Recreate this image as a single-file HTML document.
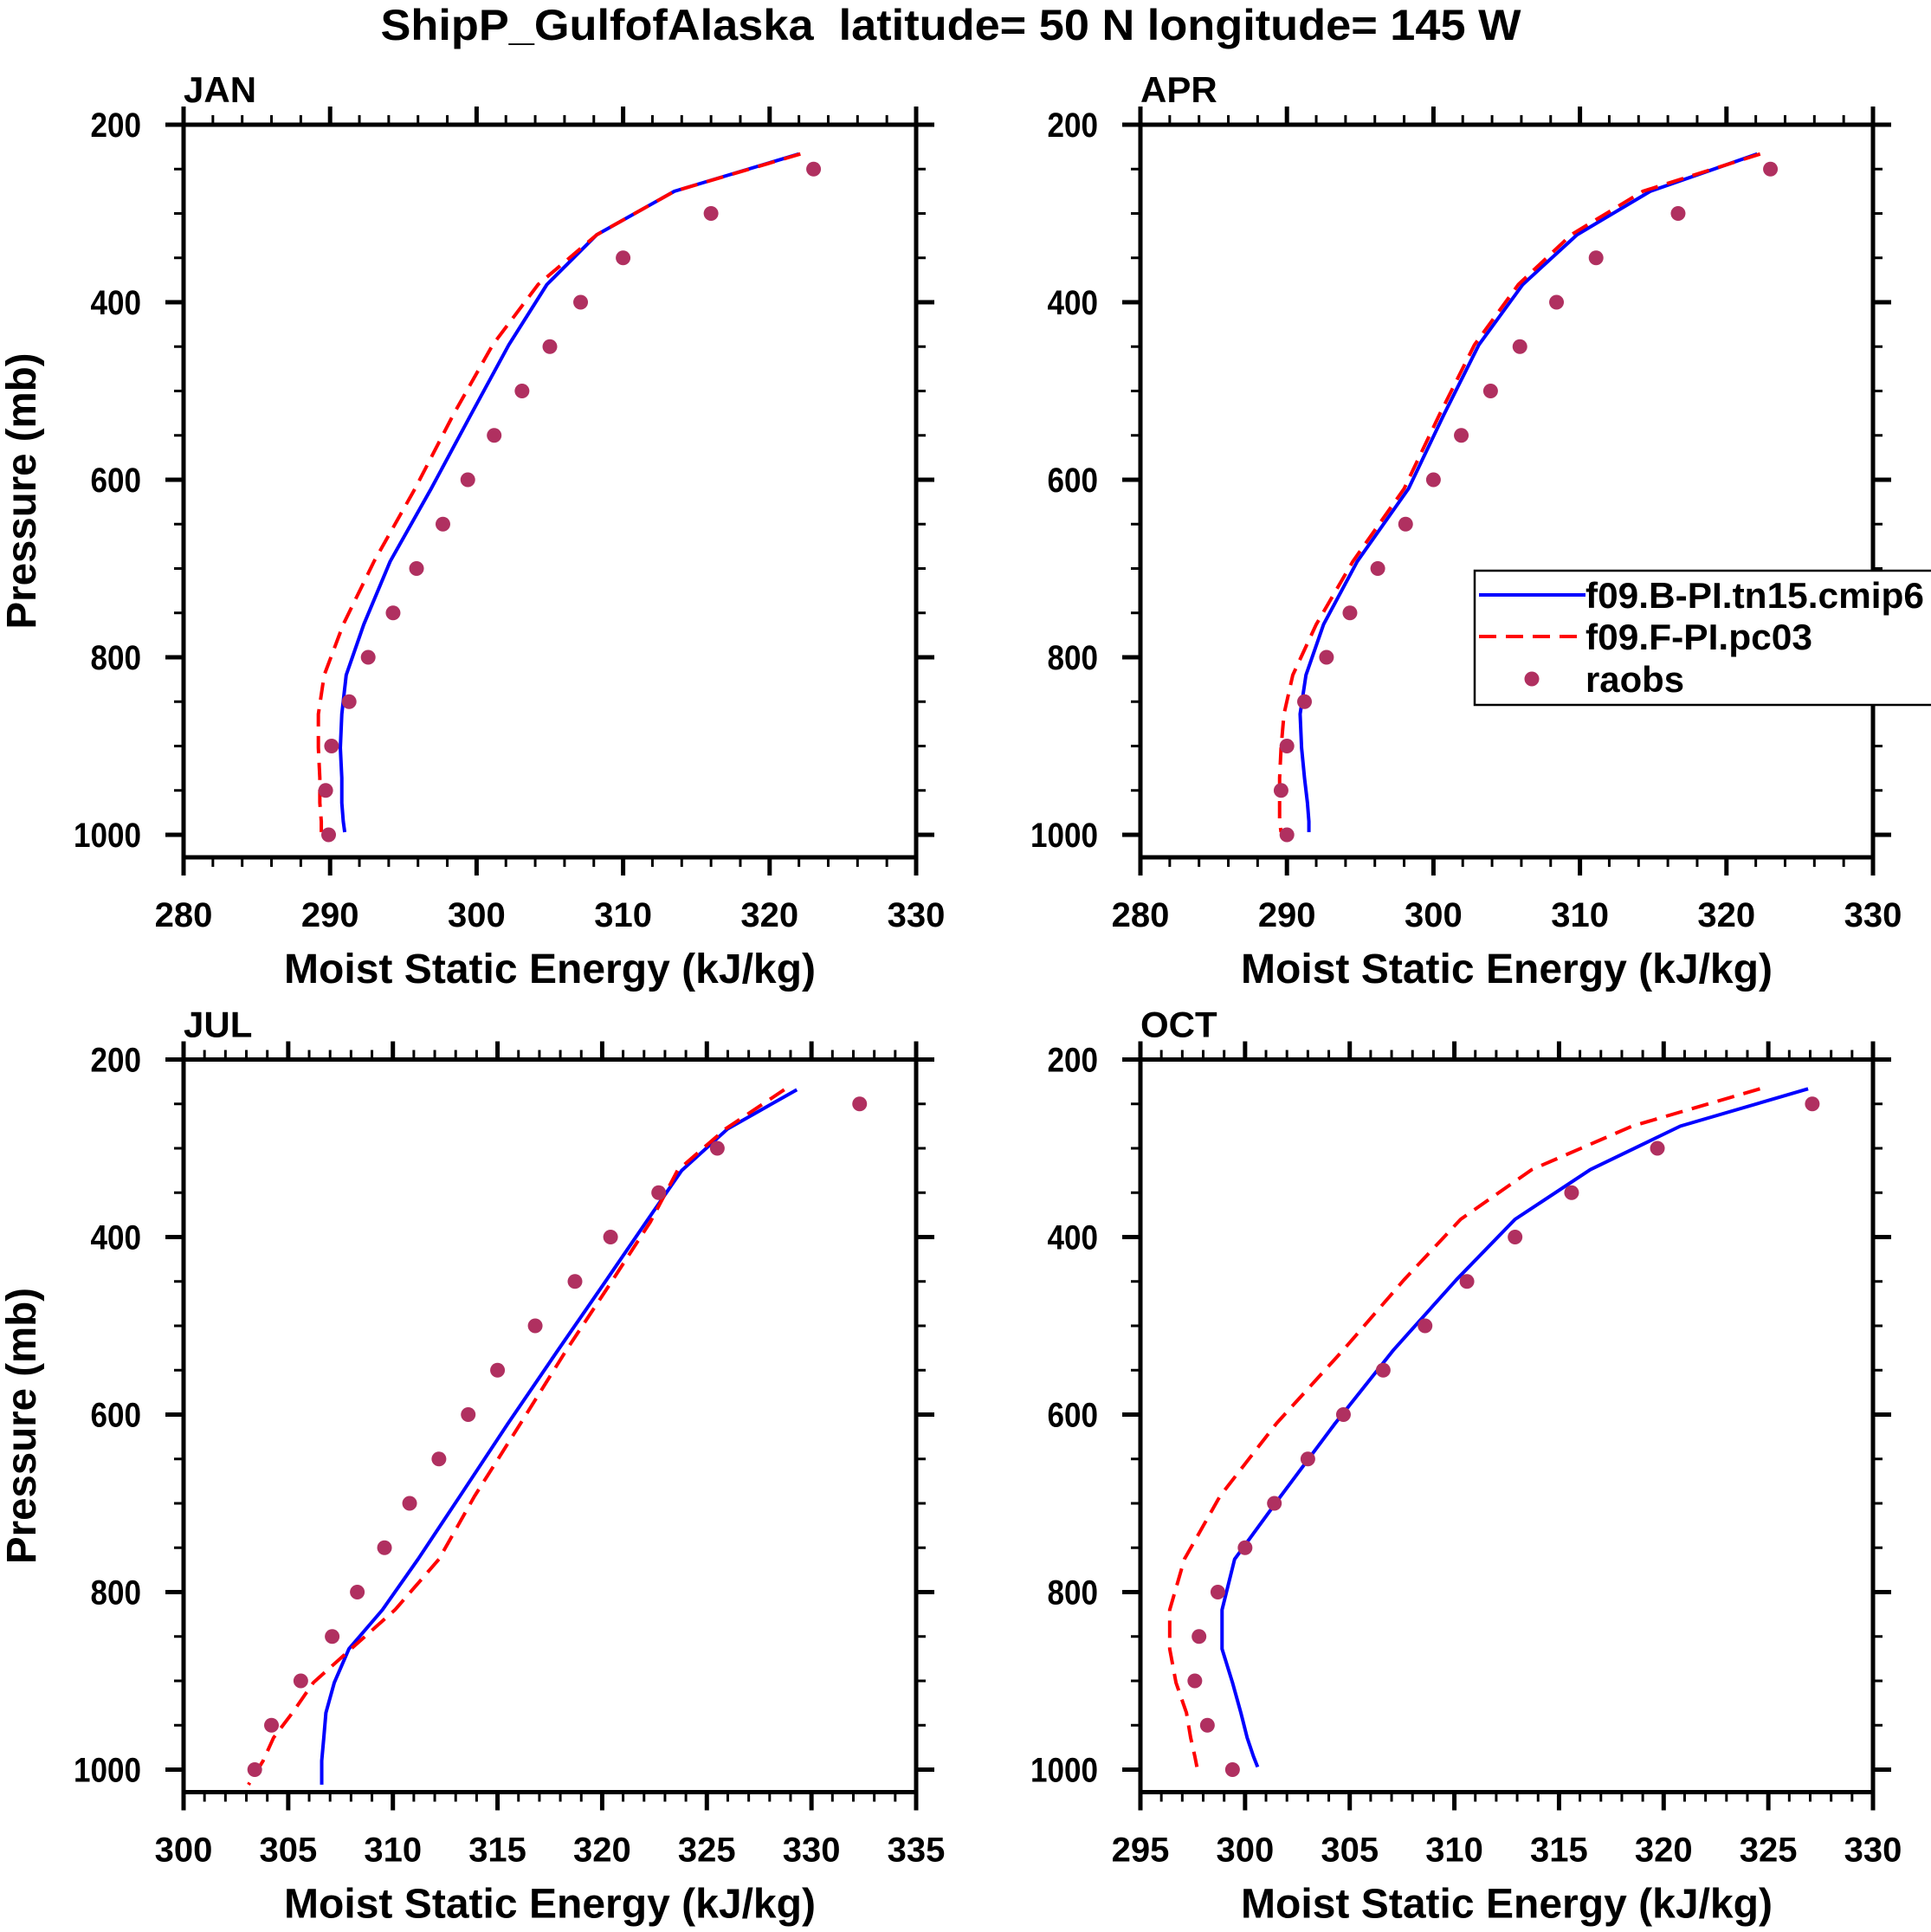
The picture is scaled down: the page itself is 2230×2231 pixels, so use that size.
<!DOCTYPE html>
<html><head><meta charset="utf-8"><style>
html,body{margin:0;padding:0;background:#fff}
svg{display:block}
text{font-family:"Liberation Sans",Arial,sans-serif;font-weight:bold;fill:#000;white-space:pre}
</style></head><body>
<svg id="fig" xmlns="http://www.w3.org/2000/svg" width="2230" height="2231" viewBox="0 0 2230 2231">
<text x="1098" y="46" font-size="50" text-anchor="middle" textLength="1317" lengthAdjust="spacingAndGlyphs" xml:space="preserve">ShipP_GulfofAlaska  latitude= 50 N longitude= 145 W</text>
</svg>
<script>
// ---- data ----
const obsLevels = [250,300,350,400,450,500,550,600,650,700,750,800,850,900,950,1000];
const modelLevels = [233,275,324,380,448,527,610,692,763,820,864,902,936,964,985,997];
const julLevels = [234,278,325,383,452,527,610,692,763,820,864,902,936,964,990,1017];

const janBlue = [322.0,313.5,308.2,304.8,302.2,299.6,296.9,294.1,292.3,291.1,290.8,290.7,290.8,290.8,290.9,291.0];
const janRed  = [322.1,313.5,308.2,304.2,301.1,298.4,295.8,293.0,290.9,289.6,289.2,289.2,289.3,289.3,289.4,289.4];
const janObs  = [323.0,316.0,310.0,307.1,305.0,303.1,301.2,299.4,297.7,295.9,294.3,292.6,291.3,290.1,289.7,289.9];

const aprBlue = [322.1,314.8,309.8,306.1,303.1,300.7,298.3,294.8,292.5,291.3,290.9,291.0,291.2,291.4,291.5,291.5];
const aprRed  = [322.3,314.3,309.4,305.8,302.8,300.4,298.0,294.5,292.0,290.4,289.8,289.6,289.5,289.5,289.5,289.6];
const aprObs  = [323.0,316.7,311.1,308.4,305.9,303.9,301.9,300.0,298.1,296.2,294.3,292.7,291.2,290.0,289.6,290.0];

const julBlue = [329.3,326.0,323.8,322.1,320.1,317.9,315.5,313.2,311.2,309.5,307.9,307.2,306.8,306.7,306.6,306.6];
const julRed  = [328.7,325.9,323.6,322.3,320.4,318.3,316.1,313.9,312.2,310.1,308.0,306.2,305.2,304.3,303.8,303.1];
const julObs  = [332.3,325.5,322.7,320.4,318.7,316.8,315.0,313.6,312.2,310.8,309.6,308.3,307.1,305.6,304.2,303.4];

const octBlue = [326.9,320.8,316.5,312.9,310.1,307.1,304.3,301.7,299.5,298.9,298.9,299.4,299.8,300.1,300.4,300.6];
const octRed  = [324.6,318.5,313.7,310.3,307.6,304.7,301.5,298.8,297.1,296.4,296.4,296.7,297.2,297.4,297.6,297.7];
const octObs  = [327.1,319.7,315.6,312.9,310.6,308.6,306.6,304.7,303.0,301.4,300.0,298.7,297.8,297.6,298.2,299.4];

const panelNames = ["JAN","APR","JUL","OCT"];
const xTicksJan = [280,290,300,310,320,330];
const xTicksJul = [300,305,310,315,320,325,330,335];
const xTicksOct = [295,300,305,310,315,320,325,330];
const yTicks = [200,400,600,800,1000];
const legendLabels = ["f09.B-PI.tn15.cmip6","f09.F-PI.pc03","raobs"];

// ---- drawing ----
const NS = "http://www.w3.org/2000/svg";
const svg = document.getElementById("fig");
function el(tag, attrs, parent){
  const e = document.createElementNS(NS, tag);
  for (const k in attrs) e.setAttribute(k, attrs[k]);
  (parent||svg).appendChild(e);
  return e;
}
const S = 846, PX = 1.025;
const panels = [
  {name:"JAN", x0:212, y0:144, xmin:280, xmax:330, ticks:xTicksJan, minor:2, blue:janBlue, red:janRed, obs:janObs, lev:modelLevels},
  {name:"APR", x0:1317, y0:144, xmin:280, xmax:330, ticks:xTicksJan, minor:2, blue:aprBlue, red:aprRed, obs:aprObs, lev:modelLevels},
  {name:"JUL", x0:212, y0:1223.5, xmin:300, xmax:335, ticks:xTicksJul, minor:1, blue:julBlue, red:julRed, obs:julObs, lev:julLevels},
  {name:"OCT", x0:1317, y0:1223.5, xmin:295, xmax:330, ticks:xTicksOct, minor:1, blue:octBlue, red:octRed, obs:octObs, lev:modelLevels}
];
panels.forEach((p, i) => {
  const g = el("g", {});
  
  
  const xs = v => p.x0 + (v - p.xmin) / (p.xmax - p.xmin) * S;
  const ys = v => p.y0 + (v - 200) * PX;
  const bottom = p.y0 + S, right = p.x0 + S;
  for (let v = p.xmin; v <= p.xmax + 1e-6; v += p.minor) {
    const x = xs(v);
    const t = el("line", {x1:x, x2:x, y1:bottom, y2:bottom+11, stroke:"#000","stroke-width":3}, g);
    
    
    const t2 = el("line", {x1:x, x2:x, y1:p.y0, y2:p.y0-11, stroke:"#000","stroke-width":3}, g);
    
    
  }
  p.ticks.forEach(v => {
    const x = xs(v);
    const t = el("line", {x1:x, x2:x, y1:bottom, y2:bottom+21, stroke:"#000","stroke-width":5}, g);
    
    
    const t2 = el("line", {x1:x, x2:x, y1:p.y0, y2:p.y0-21, stroke:"#000","stroke-width":5}, g);
    
    
    const lb = el("text", {x:x, y:bottom+80, "font-size":40, "text-anchor":"middle"}, g);
    lb.textContent = v;
    
    
  });
  for (let v = 250; v <= 1000; v += 50) {
    const y = ys(v);
    const major = (v % 200 === 0);
    const L = major ? 21 : 11, w = major ? 5 : 3;
    const a = el("line", {x1:p.x0, x2:p.x0-L, y1:y, y2:y, stroke:"#000","stroke-width":w}, g);
    
    
    const b = el("line", {x1:right, x2:right+L, y1:y, y2:y, stroke:"#000","stroke-width":w}, g);
    
    
  }
  {
    const a = el("line", {x1:p.x0, x2:p.x0-21, y1:p.y0, y2:p.y0, stroke:"#000","stroke-width":5}, g);
    
    
    const b = el("line", {x1:right, x2:right+21, y1:p.y0, y2:p.y0, stroke:"#000","stroke-width":5}, g);
    
    
  }
  yTicks.forEach(v => {
    const lb = el("text", {x:p.x0-49, y:ys(v)+14, "font-size":40, "text-anchor":"end", textLength:(String(v).length*19.5), lengthAdjust:"spacingAndGlyphs"}, g);
    lb.textContent = v;
    
    
  });
  const fr = el("rect", {x:p.x0, y:p.y0, width:S, height:S, fill:"none", stroke:"#000", "stroke-width":5}, g);
  
  
  const bl = el("polyline", {points:p.blue.map((v,k)=>xs(v)+","+ys(p.lev[k])).join(" "), fill:"none", stroke:"#0000ff","stroke-width":4,"stroke-linejoin":"round"}, g);
  
  
  const rd = el("polyline", {points:p.red.map((v,k)=>xs(v)+","+ys(p.lev[k])).join(" "), fill:"none", stroke:"#ff0000","stroke-width":4,"stroke-dasharray":"20 11"}, g);
  
  
  p.obs.forEach((v,k) => {
    const c = el("circle", {cx:xs(v), cy:ys(obsLevels[k]), r:8.5, fill:"#b03060"}, g);
    
    
  });
  const pl = el("text", {x:p.x0, y:p.y0-26, "font-size":42}, g);
  pl.textContent = panelNames[i];
  
  
  const xt = el("text", {x:p.x0+S/2, y:p.y0+S+145, "font-size":48, "text-anchor":"middle", textLength:614, lengthAdjust:"spacingAndGlyphs"}, g);
  xt.textContent = "Moist Static Energy (kJ/kg)";
  
  
  if (p.x0 < 1000) {
    const cy = p.y0 + S/2;
    const yt = el("text", {x:0, y:0, "font-size":48, "text-anchor":"middle", textLength:319, lengthAdjust:"spacingAndGlyphs", transform:"translate(41,"+cy+") rotate(-90)"}, g);
    yt.textContent = "Pressure (mb)";
    
    
  }
});
const lg = el("g", {});


const lbox = el("rect", {x:1703, y:659, width:540, height:155, fill:"#fff", stroke:"#000", "stroke-width":2.5}, lg);


const rows = [687, 735, 784];
const lens = [391, 262, 114];
const e1 = el("line", {x1:1708, x2:1831, y1:rows[0], y2:rows[0], stroke:"#0000ff", "stroke-width":4}, lg);


const e2 = el("line", {x1:1708, x2:1831, y1:rows[1], y2:rows[1], stroke:"#ff0000", "stroke-width":4, "stroke-dasharray":"20 11"}, lg);


const e3 = el("circle", {cx:1769, cy:rows[2], r:8.5, fill:"#b03060"}, lg);


legendLabels.forEach((s,k) => {
  const t = el("text", {x:1831, y:rows[k]+15, "font-size":42, textLength:lens[k], lengthAdjust:"spacingAndGlyphs"}, lg);
  t.textContent = s;
  
  
});
</script>
</body></html>
